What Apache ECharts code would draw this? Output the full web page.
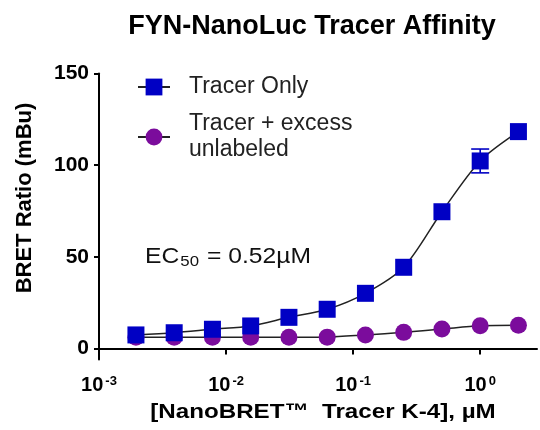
<!DOCTYPE html>
<html>
<head>
<meta charset="utf-8">
<script src="https://cdn.jsdelivr.net/npm/echarts@6/dist/echarts.min.js"></script>
<style>html,body{margin:0;padding:0;background:#fff;}#c{width:540px;height:430px;}</style>
</head>
<body>
<div id="c"></div>
<script>
// Data
const concentrations = [0.001953, 0.003906, 0.0078125, 0.015625, 0.03125, 0.0625, 0.125, 0.25, 0.5, 1, 2];
const tracerOnly = [7.4, 8.6, 10.5, 12.3, 17.0, 21.4, 30.1, 44.3, 74.6, 102.3, 118.3];
const tracerOnlyErr = [0, 0, 0, 0, 0, 0, 0, 0, 0, 6.5, 0];
const tracerExcess = [6.1, 6.1, 6.1, 6.1, 6.1, 6.2, 7.4, 8.8, 10.6, 12.4, 12.7];
const yTicks = [0, 50, 100, 150];
const xTicks = [0.001, 0.01, 0.1, 1];
const seriesNames = ['Tracer Only', 'Tracer + excess\nunlabeled'];

const FONT = '"Liberation Sans", Arial, sans-serif';
const chart = echarts.init(document.getElementById('c'), null, {renderer: 'canvas'});

const errData = [];
concentrations.forEach((x, i) => {
  if (tracerOnlyErr[i] > 0) errData.push([x, tracerOnly[i] - tracerOnlyErr[i], tracerOnly[i] + tracerOnlyErr[i]]);
});

const option = {
  animation: false,
  backgroundColor: '#ffffff',
  grid: {left: 99, right: 3, top: 73.5, bottom: 70.5, containLabel: false},
  xAxis: {
    type: 'log', logBase: 10, min: 0.001, max: 2.8,
    axisLine: {show: true, lineStyle: {color: '#000', width: 2}},
    axisTick: {show: true, length: 6, lineStyle: {color: '#000', width: 2}, customValues: xTicks},
    axisLabel: {
      customValues: xTicks,
      margin: 15,
      formatter: function (v) {
        const e = Math.round(Math.log10(v));
        return '{b|10}{s|' + e + '}';
      },
      rich: {
        b: {fontFamily: FONT, fontWeight: 'bold', fontSize: 20, color: '#000', lineHeight: 22},
        s: {fontFamily: FONT, fontWeight: 'bold', fontSize: 13, color: '#000', verticalAlign: 'top', lineHeight: 13, padding: [0, 0, 0, 2]}
      }
    },
    splitLine: {show: false}
  },
  yAxis: {
    type: 'value', min: -6, max: 150,
    axisLine: {show: true, lineStyle: {color: '#000', width: 2}},
    axisTick: {show: true, length: 5, lineStyle: {color: '#000', width: 2}, customValues: yTicks},
    axisLabel: {customValues: yTicks, margin: 10, fontFamily: FONT, fontWeight: 'bold', fontSize: 21, color: '#000'},
    splitLine: {show: false}
  },
  legend: {
    orient: 'vertical', left: 137, top: 74, padding: 0,
    itemWidth: 32, itemHeight: 21, itemGap: 11,
    textStyle: {fontFamily: FONT, fontSize: 23, color: '#222', lineHeight: 26, padding: [0, 0, 0, 14]},
    data: seriesNames
  },
  graphic: [
    {type: 'text', x: 312, y: 27, style: {text: 'FYN-NanoLuc Tracer Affinity', font: 'bold 27px ' + FONT, fill: '#000', textAlign: 'center', textVerticalAlign: 'middle'}},
    {type: 'text', x: 25, y: 198, rotation: Math.PI / 2, style: {text: 'BRET Ratio (mBu)', font: 'bold 22px ' + FONT, fill: '#000', textAlign: 'center', textVerticalAlign: 'middle'}},
    {type: 'text', x: 323, y: 412, scaleX: 1.15, style: {text: '[NanoBRET™  Tracer K-4], µM', font: 'bold 21px ' + FONT, fill: '#000', textAlign: 'center', textVerticalAlign: 'middle'}},
    {type: 'text', x: 145, y: 245, scaleX: 1.12, style: {
      text: '{a|EC}{s|50}{a| = 0.52µM}',
      rich: {
        a: {fontFamily: FONT, fontSize: 22, fill: '#111', lineHeight: 24},
        s: {fontFamily: FONT, fontSize: 15, fill: '#111', verticalAlign: 'bottom', lineHeight: 14, padding: [0, 1, 0, 1]}
      }
    }}
  ],
  series: [
    {
      name: seriesNames[1], type: 'line', smooth: 0.3,
      data: concentrations.map((x, i) => [x, tracerExcess[i]]),
      symbol: 'circle', symbolSize: 17,
      itemStyle: {color: '#7b0c9c'},
      lineStyle: {color: '#222', width: 1.5},
      z: 2
    },
    {
      name: seriesNames[0], type: 'line', smooth: 0.3,
      data: concentrations.map((x, i) => [x, tracerOnly[i]]),
      symbol: 'rect', symbolSize: 17,
      itemStyle: {color: '#0000c4'},
      lineStyle: {color: '#222', width: 1.5},
      z: 3
    },
    {
      type: 'custom', z: 4, silent: true,
      data: errData,
      renderItem: function (params, api) {
        const x = api.value(0);
        const lo = api.coord([x, api.value(1)]);
        const hi = api.coord([x, api.value(2)]);
        const hw = 9;
        const st = {stroke: '#0000c4', lineWidth: 1.6};
        return {type: 'group', children: [
          {type: 'line', shape: {x1: lo[0], y1: lo[1], x2: hi[0], y2: hi[1]}, style: st},
          {type: 'line', shape: {x1: lo[0] - hw, y1: lo[1], x2: lo[0] + hw, y2: lo[1]}, style: st},
          {type: 'line', shape: {x1: hi[0] - hw, y1: hi[1], x2: hi[0] + hw, y2: hi[1]}, style: st}
        ]};
      }
    }
  ]
};
chart.setOption(option);
</script>
</body>
</html>
